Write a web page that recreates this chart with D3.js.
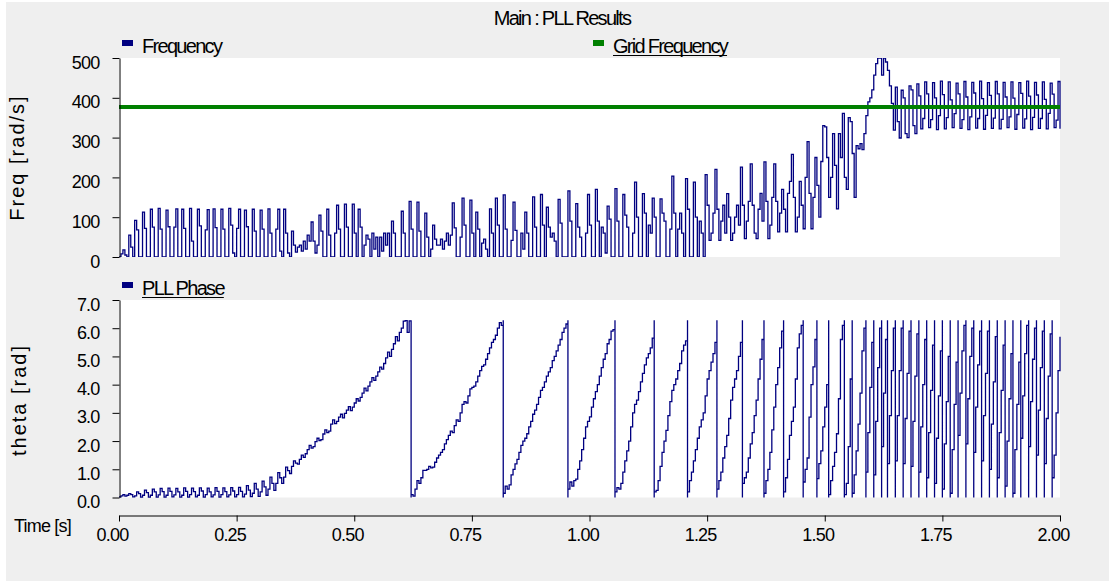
<!DOCTYPE html>
<html><head><meta charset="utf-8">
<script src="https://cdn.jsdelivr.net/npm/d3@7"></script>
<style>
body{margin:0;background:#fff;}
svg{display:block;}
text{font-family:"Liberation Sans", Arial, sans-serif; fill:#000;}
</style>
</head><body>
<svg id="chart" width="1109" height="581"></svg>
<script>
// ---------- DATA ----------
const sampleStep = 1/240;            // seconds between samples
const chartTitle = "Main : PLL Results";
const gridFrequency = 377;           // rad/s
// Frequency [rad/s], one value per sample (12 per row = 0.05 s)
const frequency = [
  0,8,18,5,0,55,25,0,92,68,0,0,
  113,72,0,0,120,75,0,0,122,70,0,0,
  118,76,0,0,75,121,0,0,120,72,0,0,
  122,40,0,0,120,78,0,0,68,119,0,0,
  121,74,0,0,120,70,0,0,122,80,10,0,
  72,120,0,0,118,76,0,0,120,65,0,0,
  118,70,0,0,121,60,0,0,70,120,15,0,
  120,60,10,0,65,30,12,25,30,15,40,20,
  55,40,88,40,10,30,105,65,0,0,120,55,
  0,0,60,130,70,0,0,133,75,0,0,133,
  60,0,120,75,0,30,55,45,0,60,20,50,
  0,50,15,60,30,60,0,90,60,0,0,0,
  115,60,0,0,140,70,0,0,138,65,0,0,
  110,50,0,20,80,45,30,30,45,20,40,60,
  30,55,136,73,0,0,50,148,80,0,0,143,
  60,0,113,70,0,35,45,20,0,121,60,0,
  148,80,0,0,156,70,0,0,42,138,67,0,
  0,60,20,113,60,0,0,151,75,0,0,157,
  80,0,125,75,50,60,40,0,145,85,0,0,
  0,166,90,0,0,134,75,50,0,0,60,157,
  80,0,0,170,90,0,75,60,10,128,95,0,
  0,172,90,0,0,157,105,75,0,0,60,188,
  100,0,0,159,110,0,80,60,148,100,0,0,
  146,110,90,0,0,70,203,110,0,70,110,60,
  0,197,120,0,0,188,100,0,90,60,0,207,
  130,42,60,110,220,120,42,90,130,60,159,100,
  42,60,100,130,80,226,130,46,90,140,234,130,
  60,46,120,160,90,239,140,46,80,150,234,140,
  63,110,170,120,63,160,190,258,150,63,100,190,
  130,71,200,290,160,71,150,250,180,100,240,330,
  327,250,150,200,310,230,121,310,250,361,200,170,
  350,340,260,150,280,272,285,270,310,355,390,400,
  420,457,486,500,500,457,500,490,469,430,386,319,
  427,340,299,419,400,310,300,430,420,330,310,435,
  405,322,348,440,410,325,345,438,400,320,355,442,
  408,322,350,440,395,325,360,437,410,323,345,441,
  402,320,352,439,412,324,348,442,398,321,356,438,
  406,323,349,441,410,322,346,439,402,325,352,440,
  399,321,358,438,411,324,347,442,404,320,351,439,
  407,323,348,440,396,322,361,437,409,325,344,441,
  322
];
// PLL phase [rad], one value per sample; [top, bottom, new] marks a 2π wrap inside that sample
const pllPhase = [
  0.02,0.06,0.1,0.05,0.08,0.14,0.1,0.02,0.06,0.2,0.14,0.01,
  0.08,0.26,0.17,0.01,0.08,0.3,0.2,0.01,0.09,0.32,0.21,0.01,
  0.08,0.33,0.22,0.02,0.09,0.32,0.2,0.01,0.08,0.34,0.22,0.01,
  0.1,0.33,0.21,0.02,0.08,0.34,0.23,0.01,0.1,0.33,0.2,0.02,
  0.09,0.35,0.22,0.01,0.1,0.34,0.21,0.02,0.09,0.35,0.23,0.02,
  0.1,0.36,0.22,0.02,0.12,0.42,0.26,0.03,0.15,0.5,0.3,0.04,
  0.2,0.58,0.38,0.08,0.3,0.72,0.5,0.25,0.5,0.88,0.7,0.5,
  0.72,1.08,0.95,0.85,1.1,1.3,1.22,1.18,1.35,1.5,1.42,1.55,
  1.7,1.85,1.75,1.8,1.98,2.1,2.02,2.05,2.25,2.4,2.3,2.35,
  2.6,2.75,2.62,2.7,2.85,2.95,2.82,2.98,3.1,3.22,3.08,3.2,
  3.35,3.5,3.42,3.55,3.7,3.88,3.78,3.95,4.1,4.25,4.15,4.3,
  4.45,4.62,4.55,4.75,4.95,5.15,5.0,5.25,5.45,5.7,5.55,5.85,
  6.0,6.25,6.27,5.85,6.26,[6.283,0,0.1],0.05,0.3,0.6,0.5,0.7,0.96,
  0.96,1.0,1.1,1.05,1.08,1.25,1.4,1.5,1.6,1.7,1.9,2.05,
  2.2,2.35,2.3,2.55,2.75,2.7,3.0,3.3,3.4,3.35,3.6,3.85,
  3.9,3.95,4.1,4.3,4.5,4.65,4.7,4.9,5.1,5.3,5.5,5.6,
  5.75,6.0,6.2,6.1,[6.283,0,0.15],0.4,0.3,0.45,0.8,1.0,1.19,1.35,
  1.6,1.85,2.0,2.1,2.26,2.5,2.7,2.95,3.1,3.3,3.55,3.8,
  3.9,4.1,4.3,4.45,4.6,4.85,5.0,5.2,5.4,5.6,5.85,6.0,
  6.15,[6.283,0,0.3],0.55,0.4,0.6,0.65,1.0,1.3,1.7,2.1,2.5,2.7,
  2.86,3.2,3.5,3.75,4.0,4.3,4.6,4.9,5.1,5.45,5.6,5.9,
  5.95,[6.283,0,0.2],0.35,0.3,0.5,0.9,1.3,1.65,2.0,2.5,3.0,3.3,
  3.45,3.75,4.1,4.4,4.7,4.95,5.1,5.3,5.65,[6.283,0,0.2],0.25,0.6,
  1.1,1.6,2.0,2.38,2.9,3.4,3.8,4.0,4.2,4.5,4.75,5.2,
  5.4,5.55,[6.283,0,0.2],0.6,0.9,1.3,1.7,2.1,2.5,2.75,3.0,3.6,
  4.2,4.5,4.8,5.1,5.5,[6.283,0,0.3],0.6,0.9,1.4,1.8,2.2,2.8,
  3.45,3.9,4.2,4.5,5.0,5.5,[6.283,0,0.5],0.7,0.9,1.4,1.9,2.3,
  2.9,3.45,4.2,4.9,5.6,[6.283,0,0.15],0.6,1.0,1.6,2.4,3.2,4.0,
  4.6,5.3,5.9,[6.283,0,0.2],0.7,1.35,2.2,2.7,3.2,4.2,5.3,5.8,
  6.1,[6.283,0,0.55],1.0,1.4,2.85,4.0,4.63,5.6,[6.283,0,0.67],1.2,1.65,2.5,
  3.2,4.0,[6.283,0,0.1],0.6,1.1,1.6,2.26,3.5,5.6,6.1,[6.283,0,0.1],0.5,
  1.8,4.2,[6.283,0,0.15],0.8,1.65,2.6,3.7,5.2,6.0,[6.283,0,0.9],2.3,3.9,
  5.5,[6.283,0,0.8],2.7,4.6,6.0,[6.283,0,1.8],3.7,5.6,[6.283,0,1.2],2.9,4.5,6.0,
  [6.283,0,1.3],2.9,4.5,6.0,[6.283,0,1.2],2.8,4.4,5.9,[6.283,0,1.1],2.7,4.3,5.8,
  [6.283,0,0.9],2.5,4.0,5.6,[6.283,0,0.7],2.3,3.8,5.4,[6.283,0,0.5],2.1,3.6,5.2,
  [6.283,0,0.3],1.9,3.4,5.0,[6.283,0,0.15],1.7,3.3,4.8,[6.283,0,2.2],3.7,5.2,6.1,
  [6.283,0,1.9],3.5,5.0,6.0,[6.283,0,1.6],3.2,4.7,5.9,[6.283,0,1.3],2.9,4.4,5.9,
  [6.283,0,1.0],2.6,4.1,5.7,[6.283,0,0.7],2.3,3.8,5.4,[6.283,0,0.4],2.0,3.5,5.1,
  [6.283,0,0.15],1.7,3.3,4.8,[6.283,0,2.1],3.6,5.1,6.1,[6.283,0,1.8],3.4,4.9,6.0,
  [6.283,0,1.5],3.1,4.6,5.9,[6.283,0,1.2],2.8,4.3,5.8,[6.283,0,0.7],1.5,3.0,4.5,
  5.7
];
const freqTicks = [0,100,200,300,400,500];
const phaseTicks = [0,1,2,3,4,5,6,7];
const timeTicks = [0,0.25,0.5,0.75,1.0,1.25,1.5,1.75,2.0];
const freqLabel = "Freq [rad/s]";
const phaseLabel = "theta [rad]";
const timeLabel = "Time [s]";
const legendFreq = "Frequency";
const legendGrid = "Grid Frequency";
const legendPhase = "PLL Phase";

// ---------- LAYOUT ----------
const NAVY = "#000080", GREEN = "#008000", BG = "#efefef";
const svg = d3.select("#chart");
const x = d3.scaleLinear().domain([0,2]).range([119,1060]);
const yF = d3.scaleLinear().domain([0,500]).range([257,58]);
const yP = d3.scaleLinear().domain([0,7]).range([497.5,300]);

svg.append("rect").attr("x",6).attr("y",2).attr("width",1103).attr("height",579).attr("fill",BG);

// title
const condensed = s => s.style("font-size","20px").style("letter-spacing","-1.7px");
svg.append("text").attr("x",562).attr("y",25).attr("text-anchor","middle").text(chartTitle).call(condensed);

// legends
function legend(xs, ys, color, label, underline){
  svg.append("rect").attr("x",xs).attr("y",ys).attr("width",11).attr("height",6).attr("fill",color);
  const t = svg.append("text").attr("x",xs+20).attr("y",ys+13).text(label).call(condensed);
  if (underline){
    const w = t.node().getComputedTextLength();
    svg.append("line").attr("x1",xs+20).attr("x2",xs+20+w).attr("y1",ys+15.5).attr("y2",ys+15.5)
      .attr("stroke","#000").attr("stroke-width",1);
  }
}
legend(122,40,NAVY,legendFreq,false);
legend(593,40,GREEN,legendGrid,true);
legend(122,282,NAVY,legendPhase,true);

// plot areas
svg.append("rect").attr("x",119).attr("y",58).attr("width",941).attr("height",199).attr("fill","#fff");
svg.append("rect").attr("x",119).attr("y",300).attr("width",941).attr("height",197.5).attr("fill","#fff");
const defs = svg.append("defs");
defs.append("clipPath").attr("id","clipF").append("rect").attr("x",119).attr("y",58).attr("width",942).attr("height",199);
defs.append("clipPath").attr("id","clipP").append("rect").attr("x",119).attr("y",300).attr("width",942).attr("height",198);

// frequency series
const freqPts = frequency.map((v,i)=>[i*sampleStep, v]);
const lineF = d3.line().x(d=>x(d[0])).y(d=>yF(d[1])).curve(d3.curveStepAfter);
svg.append("path").attr("clip-path","url(#clipF)").attr("d",lineF(freqPts))
  .attr("fill","none").attr("stroke",NAVY).attr("stroke-width",1.3);
// grid frequency
svg.append("path").attr("clip-path","url(#clipF)").attr("d",d3.line().x(d=>x(d[0])).y(d=>yF(d[1]))([[0,gridFrequency],[2,gridFrequency]]))
  .attr("stroke",GREEN).attr("stroke-width",4).attr("fill","none");

// phase series
const phasePts = [];
pllPhase.forEach((v,i)=>{
  const t = i*sampleStep;
  if (Array.isArray(v)) v.forEach(u=>phasePts.push([t,u])); else phasePts.push([t,v]);
});
const lineP = d3.line().x(d=>x(d[0])).y(d=>yP(d[1])).curve(d3.curveStepAfter);
svg.append("path").attr("clip-path","url(#clipP)").attr("d",lineP(phasePts))
  .attr("fill","none").attr("stroke",NAVY).attr("stroke-width",1.3);

// axes
const tickFont = g => g.selectAll("text").attr("font-family",null).style("font-size","18px").style("letter-spacing","-0.8px").attr("fill","#000");
function styleAxis(g){ g.attr("font-size",null).attr("font-family",null); g.selectAll("path,line").attr("stroke","#000"); }
svg.append("g").attr("transform","translate(119.5,0)")
  .call(d3.axisLeft(yF).tickValues(freqTicks).tickSize(7).tickSizeOuter(0).tickPadding(13).tickFormat(d3.format("d")))
  .call(styleAxis).call(g=>g.selectAll("text").attr("dy","10px")).call(tickFont);
svg.append("g").attr("transform","translate(119.5,0)")
  .call(d3.axisLeft(yP).tickValues(phaseTicks).tickSize(7).tickSizeOuter(0).tickPadding(13).tickFormat(d3.format(".1f")))
  .call(styleAxis).call(g=>g.selectAll("text").attr("dy","10px")).call(tickFont);
svg.append("g").attr("transform","translate(0,515.5)")
  .call(d3.axisBottom(x).tickValues(timeTicks).tickSize(6).tickSizeOuter(0).tickFormat(d3.format(".2f")))
  .call(styleAxis).call(g=>g.selectAll("text").attr("y",25.5).attr("dy",0).attr("x",-7)).call(tickFont);

// axis titles
svg.append("text").attr("transform","translate(24,157.5) rotate(-90)").attr("text-anchor","middle")
  .style("font-size","20px").style("letter-spacing","2px").text(freqLabel);
svg.append("text").attr("transform","translate(26,400) rotate(-90)").attr("text-anchor","middle")
  .style("font-size","20px").style("letter-spacing","2px").text(phaseLabel);
svg.append("text").attr("x",14).attr("y",532).style("font-size","18px").style("letter-spacing","-0.8px").text(timeLabel);
</script>
</body></html>
